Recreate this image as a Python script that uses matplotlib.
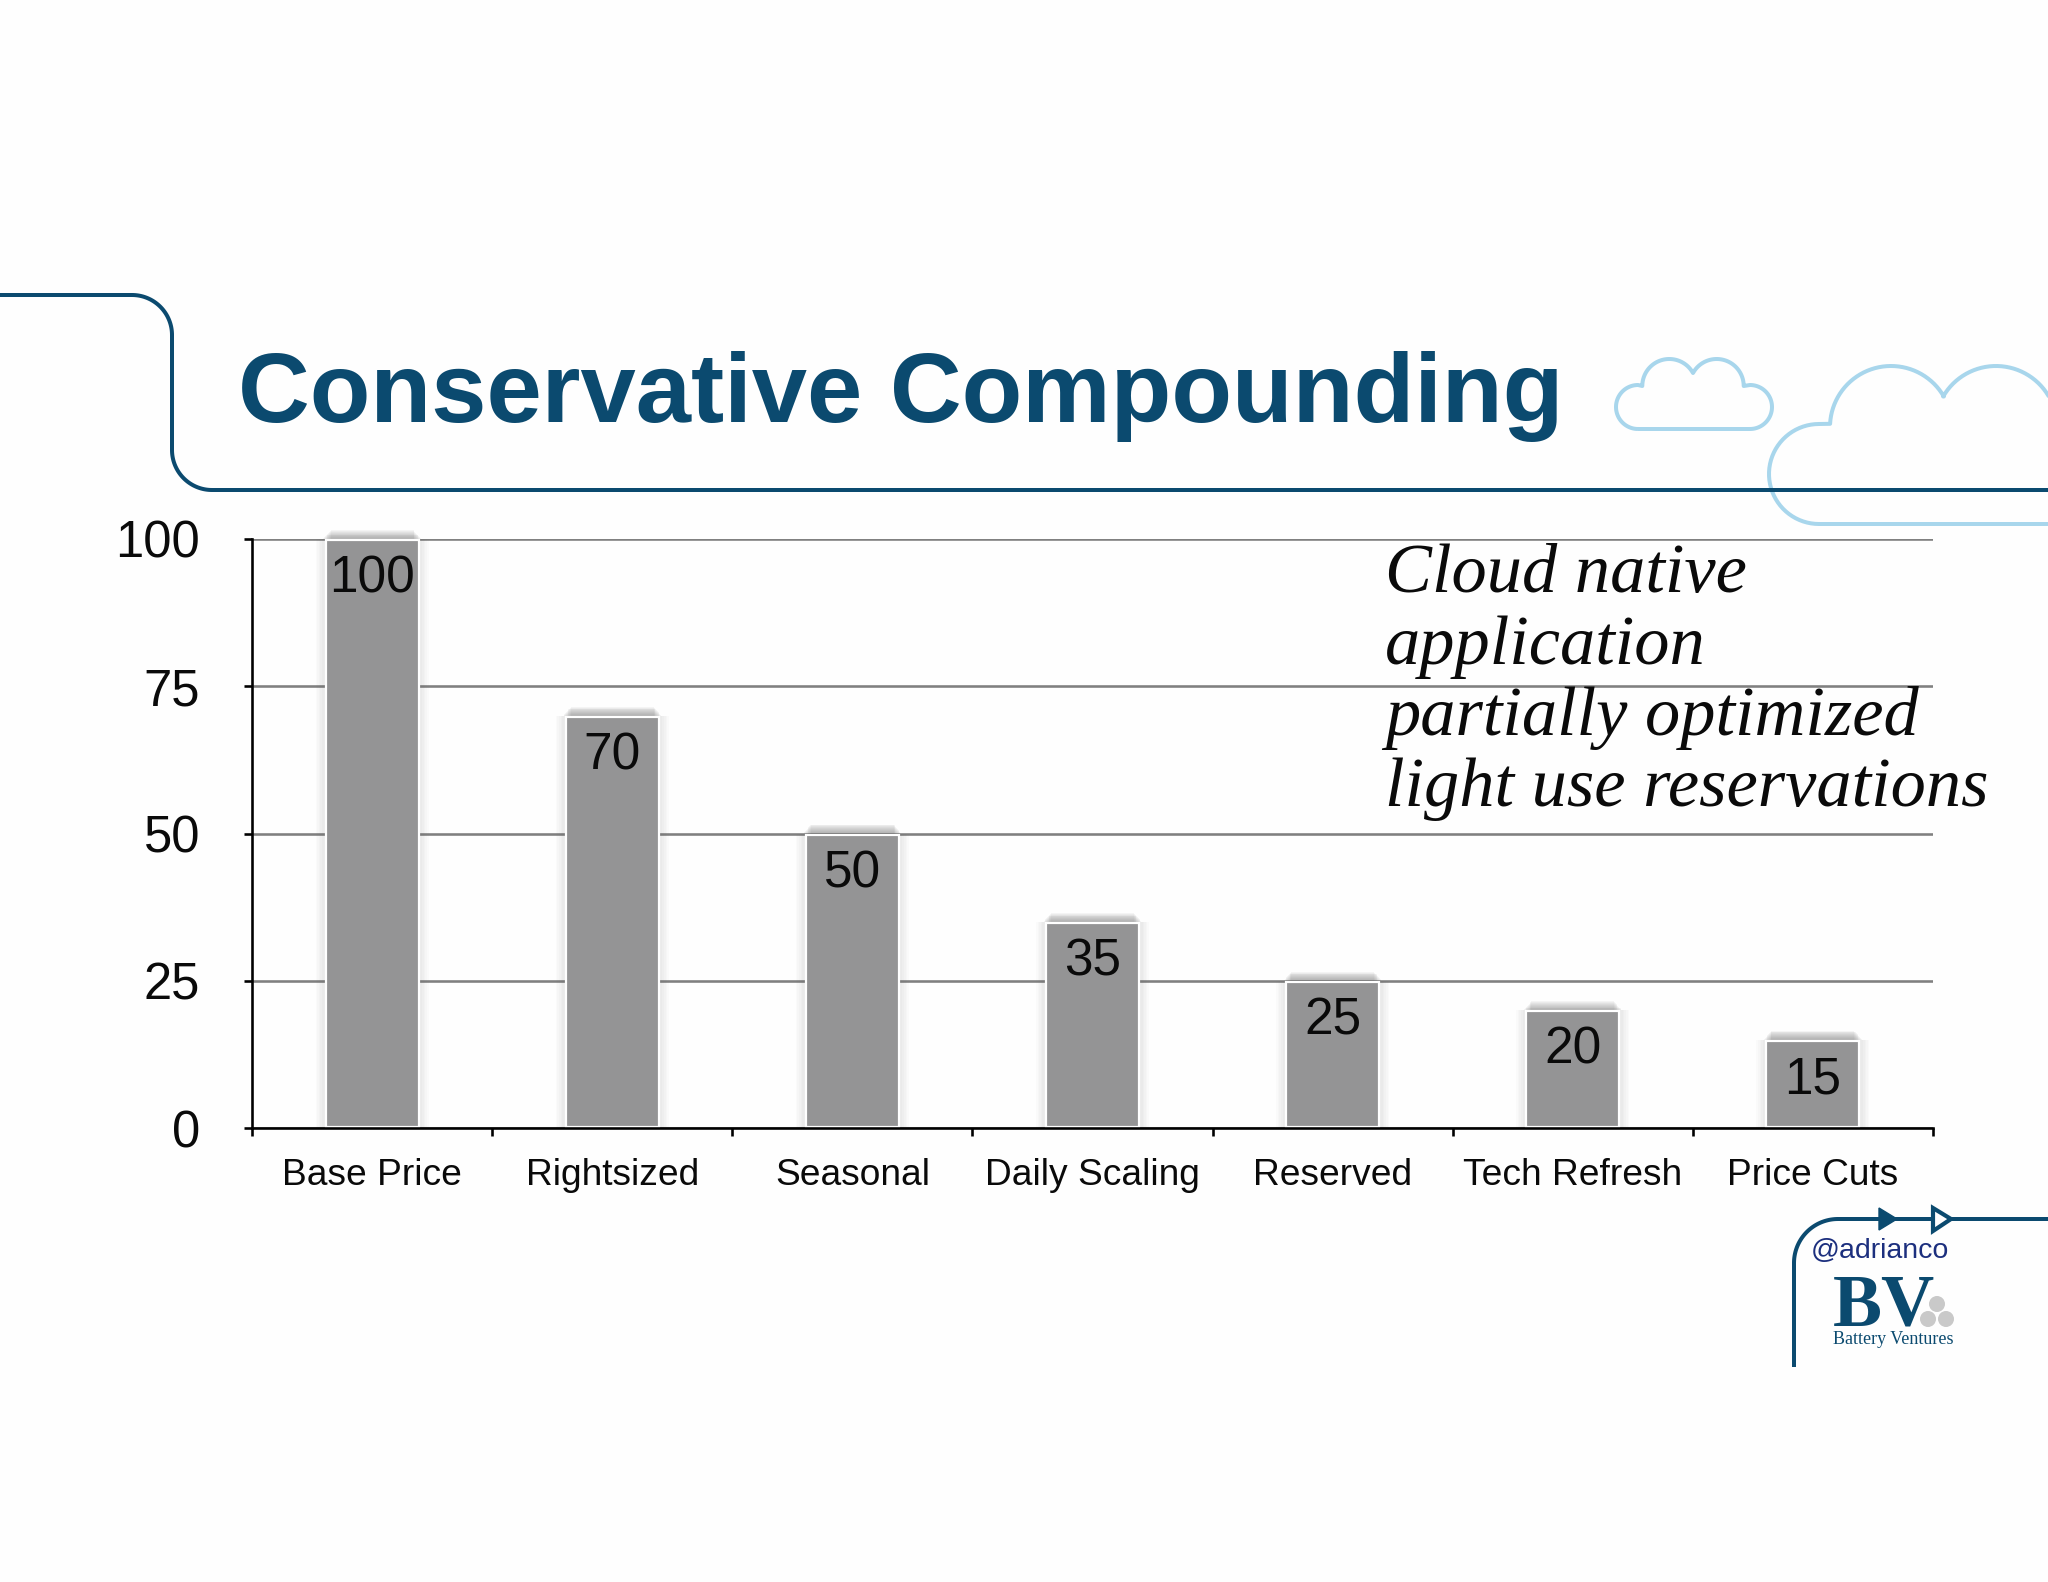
import numpy as np
import matplotlib
matplotlib.use("Agg")
import matplotlib.pyplot as plt
from matplotlib.path import Path
from matplotlib.patches import PathPatch, Circle, Polygon

categories = ["Base Price", "Rightsized", "Seasonal", "Daily Scaling", "Reserved", "Tech Refresh", "Price Cuts"]
values = [100, 70, 50, 35, 25, 20, 15]
y_ticks = [0, 25, 50, 75, 100]
title = "Conservative Compounding"
note_lines = ["Cloud native", "application", "partially optimized", "light use reservations"]

W, H = 2048, 1582
NAVY = "#0b4a6f"
BAR = "#949495"
CLOUD = "#a8d6ec"
BG = "#fefefe"
INK = "#0a0a0a"
px = 0.72  # points per pixel at dpi 100

plt.rcParams["font.family"] = ["Liberation Sans", "DejaVu Sans"]
fig = plt.figure(figsize=(W / 100, H / 100), dpi=100, facecolor=BG)

# ---- decoration layer in pixel coordinates
deco = fig.add_axes([0, 0, 1, 1], zorder=0)
deco.set_xlim(0, W)
deco.set_ylim(H, 0)
deco.axis("off")

def arc(cx, cy, r, a0, a1, n=40):
    t = np.radians(np.linspace(a0, a1, n))
    return np.column_stack([cx + r * np.cos(t), cy + r * np.sin(t)])

def stroke(points, color=NAVY, lw=4, z=2):
    deco.add_patch(PathPatch(Path(np.asarray(points)), fill=False, edgecolor=color,
                             linewidth=lw * px, zorder=z, capstyle="butt", joinstyle="round"))

# title frame
stroke(np.vstack([[[0, 295]], arc(132, 335, 40, -90, 0), arc(212, 450, 40, 180, 90), [[W + 5, 490]]]))

# clouds
small = np.vstack([
    arc(1638, 407, 22, 90, 270),
    arc(1669.3, 386, 27, -180, -28.7),
    arc(1716.7, 386, 27, -151.3, 0),
    arc(1750, 407, 22, -90, 90),
    [[1638, 429]],
])
stroke(small, CLOUD, 4, 1)
large = np.vstack([
    [[W + 10, 524]],
    arc(1819, 474, 50, 90, 270),
    arc(1891, 427, 61, -177, -30),
    arc(1996, 427, 61, -150, 0),
])
stroke(large, CLOUD, 4, 1)

# logo frame
stroke(np.vstack([[[1794, 1367]], arc(1838, 1219 + 44, 44, 180, 270), [[W + 5, 1219]]]))
deco.add_patch(Polygon([[1879, 1208], [1897, 1219], [1879, 1230]], closed=True, facecolor=NAVY, edgecolor=NAVY, linewidth=1, zorder=3))
deco.add_patch(Polygon([[1933, 1208], [1951, 1219], [1933, 1231]], closed=True, facecolor=BG, edgecolor=NAVY, linewidth=3, zorder=3))
for c in [(1937, 1304), (1928, 1319), (1946, 1319)]:
    deco.add_patch(Circle(c, 8, facecolor="#c9c9c9", edgecolor="none", zorder=3))
deco.text(1811, 1258, "@adrianco", fontsize=20.5, color="#1c2f7e", va="baseline", ha="left")
deco.text(1833, 1326, "BV", fontsize=53, color=NAVY, family="Liberation Serif", weight="bold", va="baseline", ha="left")
deco.text(1833, 1344, "Battery Ventures", fontsize=13, color=NAVY, family="Liberation Serif", va="baseline", ha="left")

# title
deco.text(238, 422, title, fontsize=71.6, color=NAVY, weight="bold", va="baseline", ha="left")

# ---- chart
L, R, T, B = 252, 1933, 539, 1128
ax = fig.add_axes([L / W, 1 - B / H, (R - L) / W, (B - T) / H], zorder=1)
ax.patch.set_alpha(0)
x = np.arange(len(categories))
unit_x = 7 / (R - L)
unit_y = 100 / (B - T)
bw = 93 * unit_x
inset = 1 * unit_y
v = np.array(values, dtype=float)
ax.set_xlim(-0.5, 6.5)
ax.set_ylim(0, 100)

ax.yaxis.grid(True, color="#808080", linewidth=2.6 * px, zorder=1)
ax.set_axisbelow(True)
# soft side glow
for i in range(1, 6):
    ax.bar(x, v, width=bw + 2 * (2 + i * 1.6) * unit_x, color="#666666", alpha=0.022, linewidth=0, zorder=2)
# soft band of shadow above the bar top: many thin layers fading up and inward
for i in range(1, 11):
    ax.bar(x, i * 0.9 * unit_y, bottom=v, width=bw + (6 - 1.6 * i) * unit_x, color="#555555",
           alpha=0.055, linewidth=0, zorder=2, clip_on=False)
ax.bar(x, v - 2 * inset, bottom=inset, width=bw, color=BAR, edgecolor="white", linewidth=2.2 * px, zorder=3, clip_on=False)

for xi, val in zip(x, values):
    ax.annotate(str(val), (xi, val), xytext=(0, -40 * px), textcoords="offset points",
                ha="center", va="center", fontsize=37, color=INK, zorder=4)

for s in ("top", "right"):
    ax.spines[s].set_visible(False)
for s in ("left", "bottom"):
    ax.spines[s].set_linewidth(2.6 * px)
    ax.spines[s].set_color("black")
    ax.spines[s].set_zorder(5)

ax.set_yticks(y_ticks)
ax.tick_params(axis="y", length=8 * px, width=2.6 * px, pad=44 * px, labelsize=36.5, labelcolor=INK)
ax.set_xticks(np.arange(-0.5, 7, 1))
ax.set_xticklabels([])
ax.tick_params(axis="x", which="major", length=8 * px, width=2.6 * px)
ax.set_xticks(np.arange(len(categories)), minor=True)
ax.set_xticklabels(categories, minor=True)
ax.tick_params(axis="x", which="minor", length=0, pad=30 * px, labelsize=26.7, labelcolor=INK)

# annotation text
for line, yb in zip(note_lines, [592, 664, 735, 806]):
    fig.text(1385 / W, 1 - yb / H, line, fontsize=50.7, style="italic",
             family="Liberation Serif", color=INK, va="baseline", ha="left", zorder=5)

fig.savefig("out.png", dpi=100, facecolor=BG)
